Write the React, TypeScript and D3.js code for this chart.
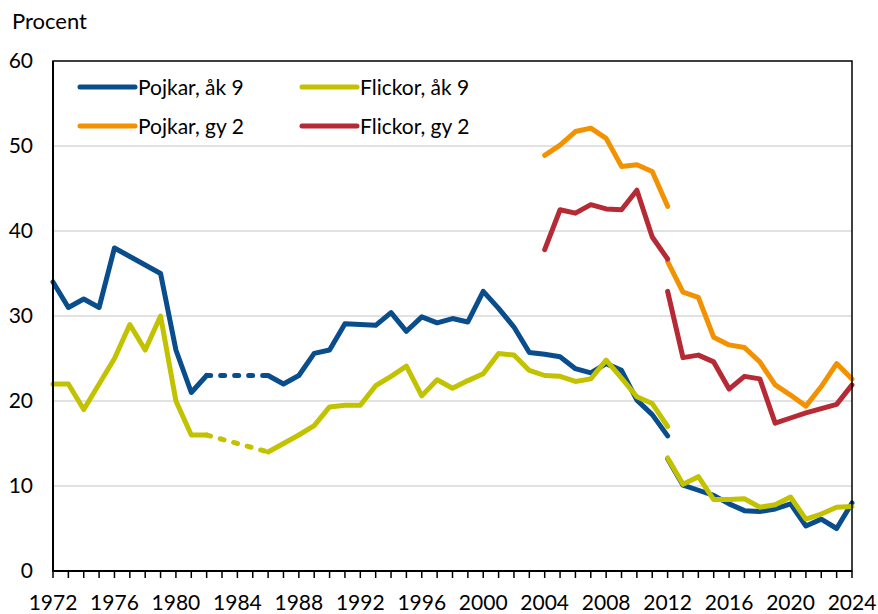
import React from "react";
import * as d3 from "d3";

const tickYears = [1972, 1976, 1980, 1984, 1988, 1992, 1996, 2000, 2004, 2008, 2012, 2016, 2020, 2024];
const yTicks = [0, 10, 20, 30, 40, 50, 60];

const yearsAk9A = d3.range(1972, 2013);
const pojkarAk9A: (number | null)[] = [34, 31, 32, 31, 38, 37, 36, 35, 26, 21, 23, null, null, null, 23, 22, 23, 25.6, 26, 29.1, 29.0, 28.9, 30.4, 28.2, 29.9, 29.2, 29.7, 29.3, 32.9, 30.9, 28.7, 25.7, 25.5, 25.2, 23.8, 23.3, 24.4, 23.6, 20.1, 18.4, 15.9];
const flickorAk9A: (number | null)[] = [22, 22, 19, 22, 25, 29, 26, 30, 20, 16, 16, null, null, null, 14, 15, 16, 17.1, 19.3, 19.5, 19.5, 21.8, 22.9, 24.1, 20.6, 22.5, 21.5, 22.4, 23.2, 25.6, 25.4, 23.6, 23.0, 22.9, 22.3, 22.6, 24.8, 22.7, 20.5, 19.7, 17.0];

const yearsB = d3.range(2012, 2025);
const pojkarAk9B = [13.2, 10.1, 9.5, 8.9, 7.9, 7.1, 7.0, 7.3, 7.9, 5.3, 6.1, 5.0, 8.0];
const flickorAk9B = [13.3, 10.2, 11.1, 8.4, 8.4, 8.5, 7.5, 7.8, 8.7, 6.1, 6.7, 7.5, 7.6];

const yearsGy2A = d3.range(2004, 2013);
const pojkarGy2A = [48.9, 50.1, 51.7, 52.1, 50.9, 47.6, 47.8, 47.0, 42.9];
const flickorGy2A = [37.8, 42.5, 42.1, 43.1, 42.6, 42.5, 44.8, 39.3, 36.7];
const pojkarGy2B = [36.4, 32.8, 32.2, 27.5, 26.6, 26.3, 24.6, 21.9, 20.7, 19.4, 21.7, 24.4, 22.6];
const flickorGy2B = [32.9, 25.1, 25.4, 24.6, 21.4, 22.9, 22.6, 17.4, 18.0, 18.6, 19.1, 19.6, 21.9];

const seriesNames = ["Pojkar, åk 9", "Flickor, åk 9", "Pojkar, gy 2", "Flickor, gy 2"];
const colors = ["#0a4d8c", "#c2c200", "#f39200", "#b52a34"];

const W = 878, H = 614;
const left = 53, right = 852, top = 61, bottom = 571;
const FONT = "Lato, 'Open Sans', sans-serif";

export default function App() {
  const x = d3.scaleLinear().domain([1972, 2024]).range([left, right]);
  const y = d3.scaleLinear().domain([0, 60]).range([bottom, top]);

  const line = d3.line<[number, number | null]>()
    .defined((d) => d[1] !== null)
    .x((d) => x(d[0]))
    .y((d) => y(d[1] as number));

  const zip = (ys: number[], vs: (number | null)[]) => ys.map((yr, i) => [yr, vs[i]] as [number, number | null]);

  // bridge (dotted) segments across missing years
  const bridge = (vs: (number | null)[]): [number, number | null][] => {
    const out: [number, number | null][] = [];
    for (let i = 1; i < vs.length; i++) {
      if (vs[i] === null && vs[i - 1] !== null) {
        let j = i;
        while (j < vs.length && vs[j] === null) j++;
        if (j < vs.length) {
          out.push([yearsAk9A[i - 1], vs[i - 1]]);
          out.push([yearsAk9A[j], vs[j]]);
        }
      }
    }
    return out;
  };

  const solid: { d: string; c: string }[] = [
    { d: line(zip(yearsAk9A, pojkarAk9A)) || "", c: colors[0] },
    { d: line(zip(yearsB, pojkarAk9B)) || "", c: colors[0] },
    { d: line(zip(yearsAk9A, flickorAk9A)) || "", c: colors[1] },
    { d: line(zip(yearsB, flickorAk9B)) || "", c: colors[1] },
    { d: line(zip(yearsGy2A, pojkarGy2A)) || "", c: colors[2] },
    { d: line(zip(yearsB, pojkarGy2B)) || "", c: colors[2] },
    { d: line(zip(yearsGy2A, flickorGy2A)) || "", c: colors[3] },
    { d: line(zip(yearsB, flickorGy2B)) || "", c: colors[3] },
  ];
  const dotted = [
    { d: line(bridge(pojkarAk9A)) || "", c: colors[0] },
    { d: line(bridge(flickorAk9A)) || "", c: colors[1] },
  ];

  const allYears = d3.range(1972, 2025);
  const legend = [
    { name: seriesNames[0], c: colors[0], lx: 80, ly: 87 },
    { name: seriesNames[1], c: colors[1], lx: 302, ly: 87 },
    { name: seriesNames[2], c: colors[2], lx: 80, ly: 126 },
    { name: seriesNames[3], c: colors[3], lx: 302, ly: 126 },
  ];

  return (
    <svg width={W} height={H} style={{ position: "absolute", left: 0, top: 0, background: "#fff" }} fontFamily={FONT}>
      <rect x={0} y={0} width={W} height={H} fill="#fff" />
      <text x={12} y={29} fontSize={22} fill="#000">Procent</text>
      {yTicks.filter((t) => t > 0 && t < 60).map((t) => (
        <line key={t} x1={left} x2={right} y1={y(t)} y2={y(t)} stroke="#d9d9d9" strokeWidth={1.5} />
      ))}
      {yTicks.map((t) => (
        <text key={t} x={33} y={y(t)} dy="0.35em" textAnchor="end" fontSize={21} fill="#000">{t}</text>
      ))}
      {allYears.map((yr) => (
        <line key={yr} x1={x(yr)} x2={x(yr)} y1={bottom} y2={bottom + 7} stroke="#000" strokeWidth={1.5} />
      ))}
      {tickYears.map((yr) => (
        <text key={yr} x={x(yr)} y={610} textAnchor="middle" fontSize={21} fill="#000">{yr}</text>
      ))}
      {dotted.map((s, i) => (
        <path key={"d" + i} d={s.d} fill="none" stroke={s.c} strokeWidth={5} strokeDasharray="4 10" strokeLinecap="round" />
      ))}
      {solid.map((s, i) => (
        <path key={i} d={s.d} fill="none" stroke={s.c} strokeWidth={5} strokeLinejoin="round" strokeLinecap="round" />
      ))}
      <rect x={left} y={top} width={right - left} height={bottom - top} fill="none" stroke="#000" strokeWidth={1.5} />
      <line x1={left} x2={left} y1={top} y2={bottom} stroke="#000" strokeWidth={2} />
      <line x1={left} x2={right} y1={bottom} y2={bottom} stroke="#000" strokeWidth={2} />
      {legend.map((l) => (
        <g key={l.name}>
          <line x1={l.lx} x2={l.lx + 55} y1={l.ly} y2={l.ly} stroke={l.c} strokeWidth={5} strokeLinecap="round" />
          <text x={l.lx + 58} y={l.ly + 8} fontSize={21} fill="#000">{l.name}</text>
        </g>
      ))}
    </svg>
  );
}
